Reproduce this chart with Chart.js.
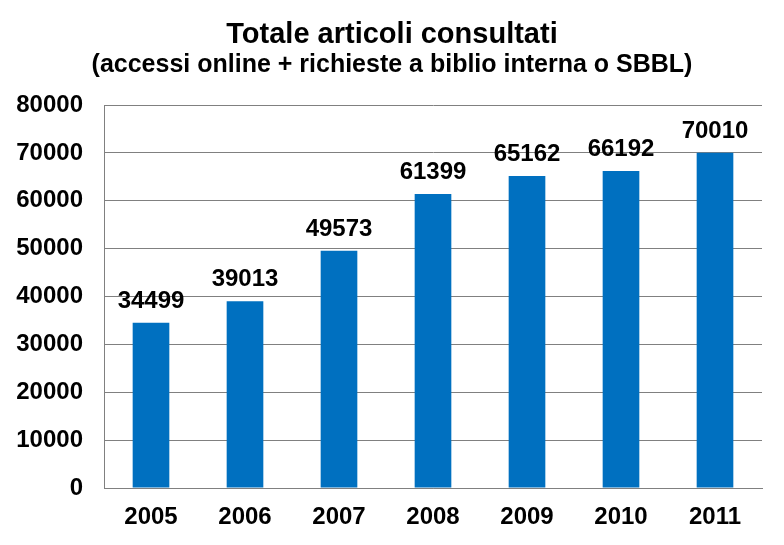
<!DOCTYPE html>
<html>
<head>
<meta charset="utf-8">
<script src="https://cdn.jsdelivr.net/npm/chart.js@4.4.1/dist/chart.umd.min.js"></script>
<style>
  html, body { margin: 0; padding: 0; background: #ffffff; }
  #wrap { width: 784px; height: 545px; position: relative; }
</style>
</head>
<body>
<div id="wrap"><canvas id="myChart"></canvas></div>
<script>
const years = ["2005", "2006", "2007", "2008", "2009", "2010", "2011"];
const totals = [34499, 39013, 49573, 61399, 65162, 66192, 70010];
const yMax = 80000;
const yStep = 10000;
const titleText = "Totale articoli consultati";
const subtitleText = "(accessi online + richieste a biblio interna o SBBL)";

(() => {
    'use strict';
    const canvas = document.getElementById("myChart");
    const ctx = canvas.getContext("2d");
    const fontFamily = "'Liberation Sans', Arial, sans-serif";

    // titles and bar values, drawn by hand
    const textPlugin = {
        id: "textPlugin",
        afterDraw(chart) {
            const c = chart.ctx;
            c.save();
            c.fillStyle = "#000000";
            c.textAlign = "center";
            c.textBaseline = "alphabetic";
            c.font = "bold 29px " + fontFamily;
            c.fillText(titleText, chart.width / 2, 43);
            c.font = "bold 25px " + fontFamily;
            c.fillText(subtitleText, chart.width / 2, 72);

            const meta = chart.getDatasetMeta(0);
            c.font = "bold 24px " + fontFamily;
            meta.data.forEach((bar, i) => {
                c.fillText(String(totals[i]), bar.x, bar.y - 15);
            });
            c.restore();
        }
    };

    new Chart(ctx, {
        type: "bar",
        data: {
            labels: years,
            datasets: [
                {
                    data: totals,
                    backgroundColor: "#0070C0",
                    borderWidth: 0,
                    barPercentage: 0.39,
                    categoryPercentage: 1.0
                }
            ]
        },
        options: {
            responsive: true,
            maintainAspectRatio: false,
            animation: false,
            layout: {
                padding: { left: 0, right: 22, top: 105, bottom: 0 }
            },
            plugins: {
                legend: { display: false },
                tooltip: { enabled: false }
            },
            scales: {
                x: {
                    grid: {
                        display: false,
                        drawTicks: false
                    },
                    border: {
                        display: true,
                        color: "#808080",
                        width: 1
                    },
                    ticks: {
                        color: "#000000",
                        padding: 15,
                        font: { family: fontFamily, size: 24, weight: "bold" }
                    },
                    afterFit(scale) {
                        scale.height = 57;
                    }
                },
                y: {
                    min: 0,
                    max: yMax,
                    grid: {
                        color: "#808080",
                        lineWidth: 1,
                        drawTicks: false
                    },
                    border: {
                        display: true,
                        color: "#808080",
                        width: 1
                    },
                    ticks: {
                        stepSize: yStep,
                        color: "#000000",
                        padding: 21,
                        font: { family: fontFamily, size: 24, weight: "bold" },
                        callback: (value) => String(value)
                    },
                    afterFit(scale) {
                        scale.width = 104;
                    }
                }
            }
        },
        plugins: [textPlugin]
    });
})();
</script>
</body>
</html>
